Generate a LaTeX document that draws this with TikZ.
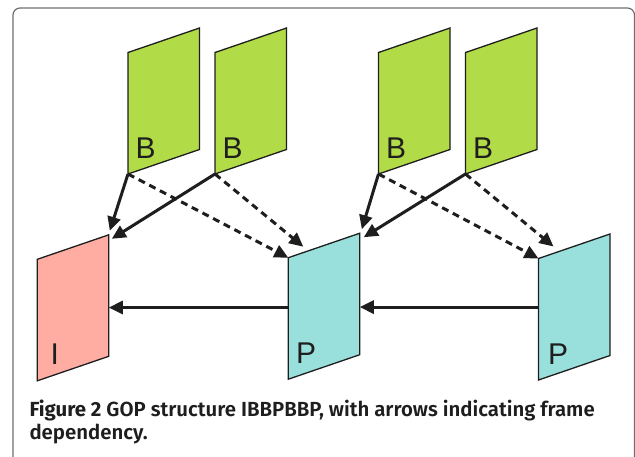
\documentclass[tikz,border=0pt]{standalone}
\usepackage{fontspec}
\setmainfont{Liberation Sans}
\newfontfamily\capbold{Fira Sans Bold}
\newfontfamily\capmed{Fira Sans SemiBold}
\usetikzlibrary{arrows.meta,calc}

\definecolor{bgreen}{RGB}{178,219,72}
\definecolor{ipink}{RGB}{255,173,163}
\definecolor{pcyan}{RGB}{153,224,220}
\definecolor{panelgray}{RGB}{110,110,110}
\definecolor{ink}{RGB}{30,30,30}

\tikzset{
  framebox/.style={draw=ink, line width=1.3pt, line join=miter},
  framelabel/.style={anchor=base west, inner sep=0pt, text=ink,
    font=\fontsize{30}{30}\selectfont},
  dep/.style={draw=ink, line width=3pt, -{Triangle[length=14pt,width=13pt]}},
  bdep/.style={dep, dash pattern=on 7pt off 5pt},
  captext/.style={anchor=base west, inner sep=0pt, text=ink,
    font=\fontsize{20.4}{24}\capmed},
}

% one video frame: name, left x, top-left y, fill, letter, letter offset
\newcommand\gopframe[6]{%
  \coordinate (#1-tl) at (#2,#3);
  \coordinate (#1-tr) at ($(#1-tl)+(71.5,-24.5)$);
  \coordinate (#1-br) at ($(#1-tr)+(0,121.5)$);
  \coordinate (#1-bl) at ($(#1-tl)+(0,121.5)$);
  \draw[framebox, fill=#4] (#1-tl) -- (#1-tr) -- (#1-br) -- (#1-bl) -- cycle;
  \node[framelabel] (#1-lbl) at ($(#1-bl)+(#6,-16)$) {#5};
}

\begin{document}
\begin{tikzpicture}[x=1pt,y=-1pt]
  \useasboundingbox (0,0) rectangle (635,456);
  \begin{scope}
    \clip (0,0) rectangle (635,456);
    \draw[panelgray, line width=1.2pt, rounded corners=7pt] (13,8) rectangle (634.5,480);
  \end{scope}

  % frames
  \gopframe{I}{37.3}{259.3}{ipink}{I}{13}
  \gopframe{B1}{128}{52.5}{bgreen}{B}{7.5}
  \gopframe{B2}{215}{52.5}{bgreen}{B}{7.5}
  \gopframe{P1}{288.3}{257.7}{pcyan}{P}{7.5}
  \gopframe{B3}{378.5}{52.5}{bgreen}{B}{7.5}
  \gopframe{B4}{465.5}{52.5}{bgreen}{B}{7.5}
  \gopframe{P2}{538.5}{258.5}{pcyan}{P}{9.5}

  % forward prediction
  \coordinate (P1-w) at ($(P1-tl)!0.41!(P1-bl)$);
  \coordinate (P2-w) at ($(P2-tl)!0.40!(P2-bl)$);
  \draw[dep] (P1-w) -- (P1-w -| I-tr);
  \draw[dep] (P2-w) -- (P2-w -| P1-tr);

  % bidirectional prediction, first group
  \draw[dep] (B1-bl) -- ($(I-tr)+(1,-4)$);
  \draw[dep] (B2-bl) -- ($(I-tr)+(3,4)$);
  \draw[bdep] (B1-bl) -- (P1-tl);
  \draw[bdep] (B2-bl) -- ($(P1-tl)+(15,-11)$);

  % bidirectional prediction, second group
  \draw[dep] (B3-bl) -- ($(P1-tr)+(2,-4)$);
  \draw[dep] (B4-bl) -- ($(P1-tr)+(4,4)$);
  \draw[bdep] (B3-bl) -- (P2-tl);
  \draw[bdep] (B4-bl) -- ($(P2-tl)+(15,-12)$);

  % caption
  \node[captext] (cap1) at (29.3,416)
    {{\capbold Figure 2} GOP structure IBBPBBP, with arrows indicating frame};
  \node[captext] (cap2) at (29.3,439) {dependency.};
\end{tikzpicture}
\end{document}
